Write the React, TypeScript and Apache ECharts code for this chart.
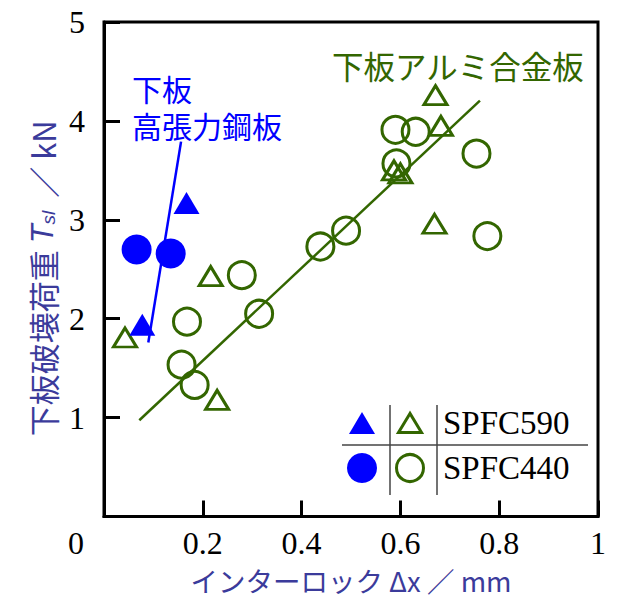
import React, { useEffect, useRef } from "react";
import * as echarts from "echarts";

// Data
const xTicks = [0, 0.2, 0.4, 0.6, 0.8, 1];
const yTicks = [0, 1, 2, 3, 4, 5];

// 下板 高張力鋼板 (filled marks)
const steel590: [number, number][] = [
  [0.0775, 1.94],
  [0.167, 3.17],
];
const steel440: [number, number][] = [
  [0.066, 2.70],
  [0.135, 2.66],
];
const steelFit: [number, number][] = [
  [0.0897, 1.76],
  [0.156, 3.79],
];

// 下板アルミ合金板 (open marks)
const alu590: [number, number][] = [
  [0.0425, 1.81],
  [0.216, 2.43],
  [0.229, 1.18],
  [0.587, 3.50],
  [0.600, 3.47],
  [0.669, 2.96],
  [0.671, 4.26],
  [0.682, 3.95],
];
const alu440: [number, number][] = [
  [0.157, 1.535],
  [0.168, 1.97],
  [0.1835, 1.33],
  [0.279, 2.44],
  [0.314, 2.05],
  [0.438, 2.73],
  [0.490, 2.89],
  [0.590, 3.91],
  [0.592, 3.57],
  [0.631, 3.89],
  [0.754, 3.67],
  [0.776, 2.835],
];
const aluFit: [number, number][] = [
  [0.0715, 0.973],
  [0.761, 4.205],
];

const legendRows = ["SPFC590", "SPFC440"];
const steelNote = ["下板", "高張力鋼板"];
const aluNote = "下板アルミ合金板";

const BLUE = "#0000ff";
const GREEN = "#336600";
const TITLE = "#3b3b9b";
const SERIF = "'Liberation Serif', 'Times New Roman', serif";
const SANS = "'Noto Sans CJK JP', 'Noto Sans', sans-serif";

export default function App() {
  const ref = useRef<HTMLDivElement>(null);
  useEffect(() => {
    if (!ref.current) return;
    const chart = echarts.init(ref.current, null, { renderer: "svg" });
    const lx1 = 390;
    const lx2 = 437;
    const rowY = [423, 468];
    chart.setOption({
      animation: false,
      backgroundColor: "#ffffff",
      grid: {
        left: 104,
        right: 29,
        top: 22,
        bottom: 82,
        show: true,
        borderColor: "#000",
        borderWidth: 3,
        backgroundColor: "transparent",
      },
      xAxis: {
        type: "value",
        min: xTicks[0],
        max: xTicks[xTicks.length - 1],
        interval: 0.2,
        splitLine: { show: false },
        axisLine: { show: true, lineStyle: { color: "#000", width: 3 } },
        axisTick: { show: true, inside: true, length: 16, lineStyle: { color: "#000", width: 3 } },
        axisLabel: {
          showMinLabel: false,
          margin: 10,
          color: "#000",
          fontFamily: SERIF,
          fontSize: 32,
          formatter: (v: number) => (v === 1 ? "1" : v.toFixed(1)),
        },
        name: "インターロック Δx ／ mm",
        nameLocation: "middle",
        nameGap: 50,
        nameTextStyle: { color: TITLE, fontFamily: SANS, fontSize: 27.5 },
      },
      yAxis: {
        type: "value",
        min: yTicks[0],
        max: yTicks[yTicks.length - 1],
        interval: 1,
        splitLine: { show: false },
        axisLine: { show: true, lineStyle: { color: "#000", width: 3 } },
        axisTick: { show: true, inside: true, length: 16, lineStyle: { color: "#000", width: 3 } },
        axisLabel: {
          showMinLabel: false,
          margin: 19,
          color: "#000",
          fontFamily: SERIF,
          fontSize: 32,
        },
        name: "下板破壊荷重 {i|T}{sub|sl} ／ kN",
        nameLocation: "middle",
        nameRotate: 90,
        nameGap: 43,
        nameTextStyle: {
          color: TITLE,
          fontFamily: SANS,
          fontSize: 31,
          padding: [0, 18, 0, 0],
          rich: {
            i: { fontFamily: "'Liberation Sans', Arial, sans-serif", fontStyle: "italic", fontSize: 31, color: TITLE },
            sub: {
              fontFamily: "'Liberation Sans', Arial, sans-serif",
              fontStyle: "italic",
              fontSize: 19,
              color: TITLE,
              verticalAlign: "bottom",
              padding: [10, 6, 0, 0],
            },
          },
        },
      },
      series: [
        {
          type: "line",
          data: aluFit,
          showSymbol: false,
          lineStyle: { color: GREEN, width: 2.5 },
          z: 2,
        },
        {
          type: "line",
          data: steelFit,
          showSymbol: false,
          lineStyle: { color: BLUE, width: 2.5 },
          z: 2,
        },
        {
          type: "scatter",
          data: alu590,
          symbol: "triangle",
          symbolSize: [23, 19],
          itemStyle: { color: "rgba(0,0,0,0)", borderColor: GREEN, borderWidth: 3, opacity: 1 },
          z: 3,
        },
        {
          type: "scatter",
          data: alu440,
          symbol: "circle",
          symbolSize: 27,
          itemStyle: { color: "rgba(0,0,0,0)", borderColor: GREEN, borderWidth: 3, opacity: 1 },
          z: 3,
        },
        {
          type: "scatter",
          data: steel590,
          symbol: "triangle",
          symbolSize: [26, 22],
          itemStyle: { color: BLUE, opacity: 1 },
          z: 4,
        },
        {
          type: "scatter",
          data: steel440,
          symbol: "circle",
          symbolSize: 30,
          itemStyle: { color: BLUE, opacity: 1 },
          z: 4,
        },
      ],
      graphic: [
        {
          type: "text",
          left: 68,
          top: 527,
          style: { text: "0", fill: "#000", font: `32px ${SERIF}` },
        },
        {
          type: "text",
          x: 132,
          y: 88,
          style: { text: steelNote[0], fill: BLUE, font: `30px ${SANS}`, lineHeight: 30, verticalAlign: "middle" },
        },
        {
          type: "text",
          x: 132,
          y: 125,
          style: { text: steelNote[1], fill: BLUE, font: `30px ${SANS}`, lineHeight: 30, verticalAlign: "middle" },
        },
        {
          type: "text",
          x: 332,
          y: 64.5,
          style: { text: aluNote, fill: GREEN, font: `31.5px ${SANS}`, verticalAlign: "middle" },
        },
        // legend table
        { type: "line", shape: { x1: 342, y1: 445, x2: 588, y2: 445 }, style: { stroke: "#444", lineWidth: 1.5 } },
        { type: "line", shape: { x1: lx1, y1: 405, x2: lx1, y2: 495 }, style: { stroke: "#444", lineWidth: 1.5 } },
        { type: "line", shape: { x1: lx2, y1: 405, x2: lx2, y2: 495 }, style: { stroke: "#444", lineWidth: 1.5 } },
        {
          type: "polygon",
          shape: { points: [[362, rowY[0] - 11], [349, rowY[0] + 11], [375, rowY[0] + 11]] },
          style: { fill: BLUE },
        },
        {
          type: "polygon",
          shape: { points: [[410, rowY[0] - 9.5], [398.5, rowY[0] + 9.5], [421.5, rowY[0] + 9.5]] },
          style: { fill: "none", stroke: GREEN, lineWidth: 3 },
        },
        { type: "circle", shape: { cx: 362, cy: rowY[1], r: 15 }, style: { fill: BLUE } },
        {
          type: "circle",
          shape: { cx: 410, cy: rowY[1], r: 13.5 },
          style: { fill: "none", stroke: GREEN, lineWidth: 3 },
        },
        ...legendRows.map((t, i) => ({
          type: "text",
          x: 443,
          y: rowY[i],
          style: { text: t, fill: "#000", font: `33px ${SERIF}`, verticalAlign: "middle" },
        })),
      ],
    });
    return () => chart.dispose();
  }, []);
  return (
    <div
      ref={ref}
      style={{ position: "fixed", left: 0, top: 0, width: 627, height: 599, background: "#fff" }}
    />
  );
}
